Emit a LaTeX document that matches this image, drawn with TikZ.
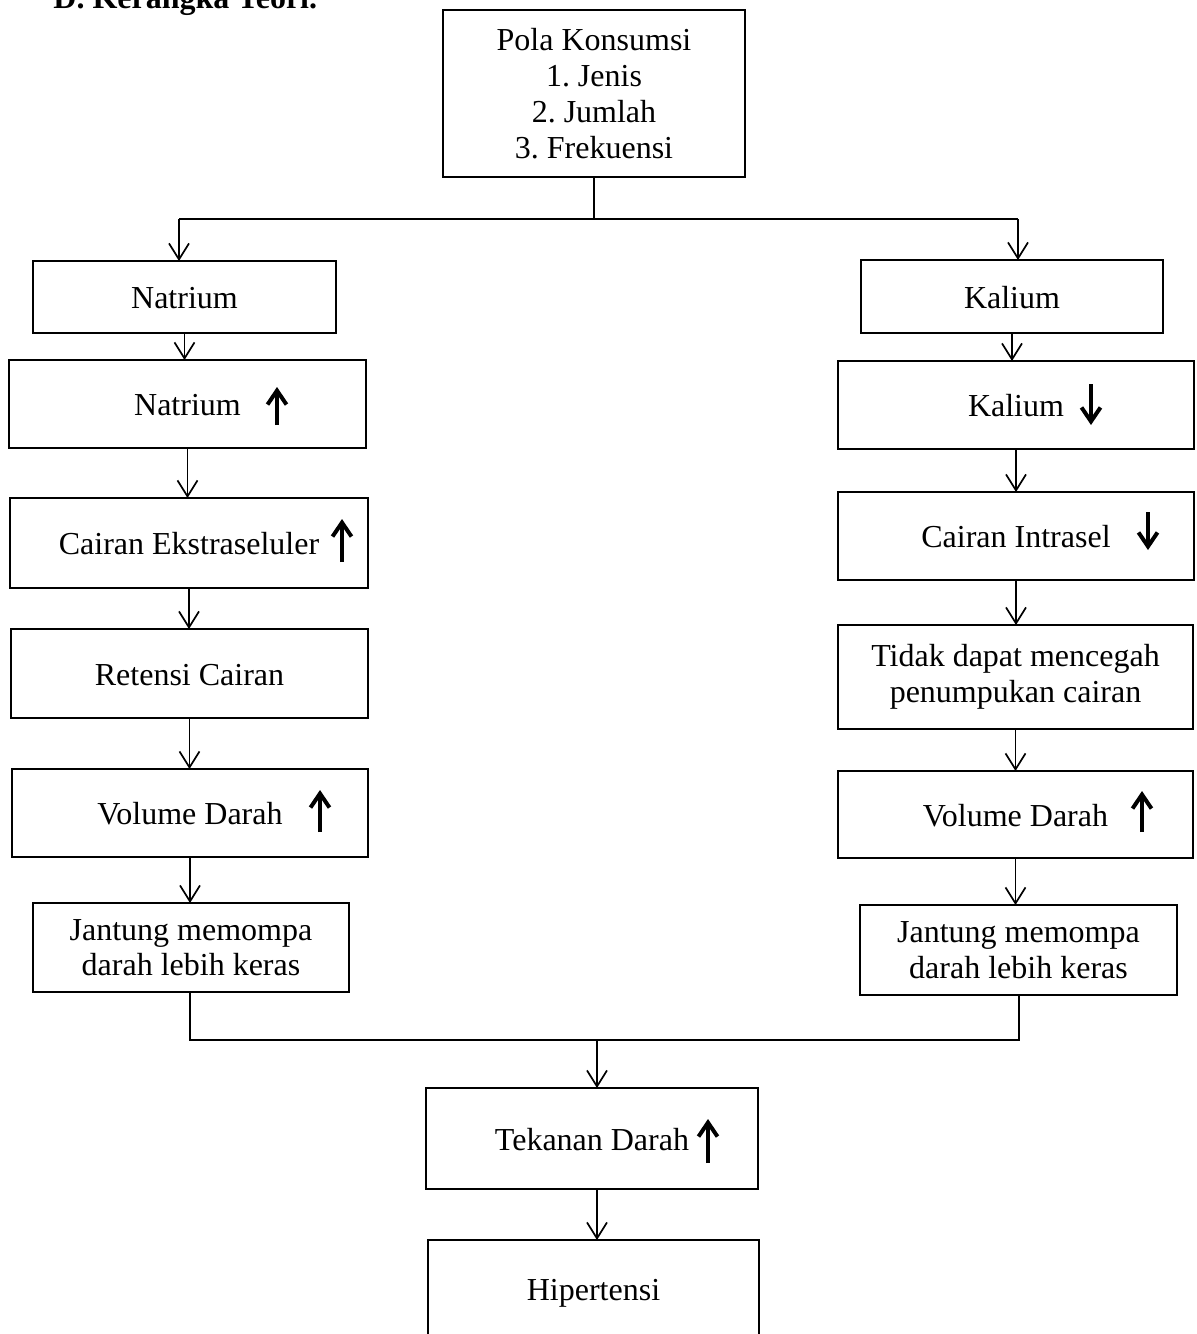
\documentclass[tikz,border=0pt]{standalone}
\usepackage{fontspec}
\setmainfont{Liberation Serif}
\usetikzlibrary{arrows.meta}
\frenchspacing
\begin{document}
\begin{tikzpicture}[x=0.5pt,y=-0.5pt,
  box/.style={draw, line width=1.25pt, rectangle, inner sep=0pt, outer sep=0pt, align=center, font=\fontsize{16}{18}\selectfont\frenchspacing},
  one/.style={text height=15.2pt, text depth=3.7pt},
  wh/.style 2 args={minimum width=#1*0.5pt, minimum height=#2*0.5pt},
  conn/.style={line width=0.85pt, -{Straight Barb[length=8pt,width=10pt]}},
  thinline/.style={line width=0.6pt},
  sym/.style={line width=2pt, -{Straight Barb[length=7pt,width=9.5pt]}}]
\fill[white] (0,0) rectangle (1196,1334);
\useasboundingbox (0,0) rectangle (1196,1334);

% title (partly cut by the top edge, as in the source page)
\node[anchor=base west, inner sep=0pt, font=\fontsize{16}{18}\selectfont\bfseries\frenchspacing] (title) at (53,8) {D. Kerangka Teori.};

% top box
\node[box, wh={302}{167}] (top) at (594,93.5) {Pola Konsumsi\\1. Jenis\\2. Jumlah\\3. Frekuensi};

% left column
\node[box, one, wh={303}{72}] (na1) at (184.5,297) {Natrium};
\node[box, one, wh={357}{88}] (na2) at (187.5,404) {Natrium};
\node[box, one, wh={358}{90}] (na3) at (189,543) {Cairan Ekstraseluler};
\node[box, one, wh={357}{89}] (na4) at (189.5,673.5) {Retensi Cairan};
\node[box, one, wh={356}{88}] (na5) at (190,813) {Volume Darah};
\node[box, wh={316}{89}, font=\fontsize{16}{17.5}\selectfont] (na6) at (191,947.5) {Jantung memompa\\darah lebih keras};

% right column
\node[box, one, wh={302}{73}] (ka1) at (1012,296.5) {Kalium};
\node[box, one, wh={356}{88}] (ka2) at (1016,405) {Kalium};
\node[box, one, wh={356}{88}] (ka3) at (1016,536) {Cairan Intrasel};
\node[box, wh={355}{104}] (ka4) at (1015.5,677) {Tidak dapat mencegah\\penumpukan cairan};
\node[box, one, wh={355}{87}] (ka5) at (1015.5,814.5) {Volume Darah};
\node[box, wh={317}{90}] (ka6) at (1018.5,950) {Jantung memompa\\darah lebih keras};

% bottom
\node[box, one, wh={332}{101}] (tek) at (592,1138.5) {Tekanan Darah};
\node[box, one, wh={331}{97}] (hip) at (593.5,1288.5) {Hipertensi};

% up / down symbols inside boxes
\draw[sym] (277,425) -- (277,387);
\draw[sym] (342,562) -- (342,519);
\draw[sym] (320,832) -- (320,790);
\draw[sym] (1091,384) -- (1091,425);
\draw[sym] (1148,512) -- (1148,550);
\draw[sym] (1142,832) -- (1142,791);
\draw[sym] (708,1163) -- (708,1119);

% branching from the top box
\coordinate (jl) at (179,219);
\coordinate (jr) at (1018,219);
\draw[thinline] (top.south) -- (top.south |- jl);
\draw[thinline] (jl) -- (jr);
\draw[conn] (jl) -- (jl |- na1.north);
\draw[conn] (jr) -- (jr |- ka1.north);

% left chain
\draw[conn] (na1.south) -- (na1.south |- na2.north);
\draw[conn] (na2.south) -- (na2.south |- na3.north);
\draw[conn] (na3.south) -- (na3.south |- na4.north);
\draw[conn] (na4.south) -- (na4.south |- na5.north);
\draw[conn] (na5.south) -- (na5.south |- na6.north);

% right chain
\draw[conn] (ka1.south) -- (ka1.south |- ka2.north);
\draw[conn] (ka2.south) -- (ka2.south |- ka3.north);
\draw[conn] (ka3.south) -- (ka3.south |- ka4.north);
\draw[conn] (ka4.south) -- (ka4.south |- ka5.north);
\draw[conn] (ka5.south) -- (ka5.south |- ka6.north);

% joining at the bottom
\coordinate (bl) at (190,1040);
\coordinate (br) at (1019,1040);
\coordinate (bm) at (597,1040);
\draw[thinline] (na6.south -| bl) -- (bl) -- (br) -- (ka6.south -| br);
\draw[conn] (bm) -- (bm |- tek.north);
\draw[conn] (tek.south -| bm) -- (bm |- hip.north);
\end{tikzpicture}
\end{document}
